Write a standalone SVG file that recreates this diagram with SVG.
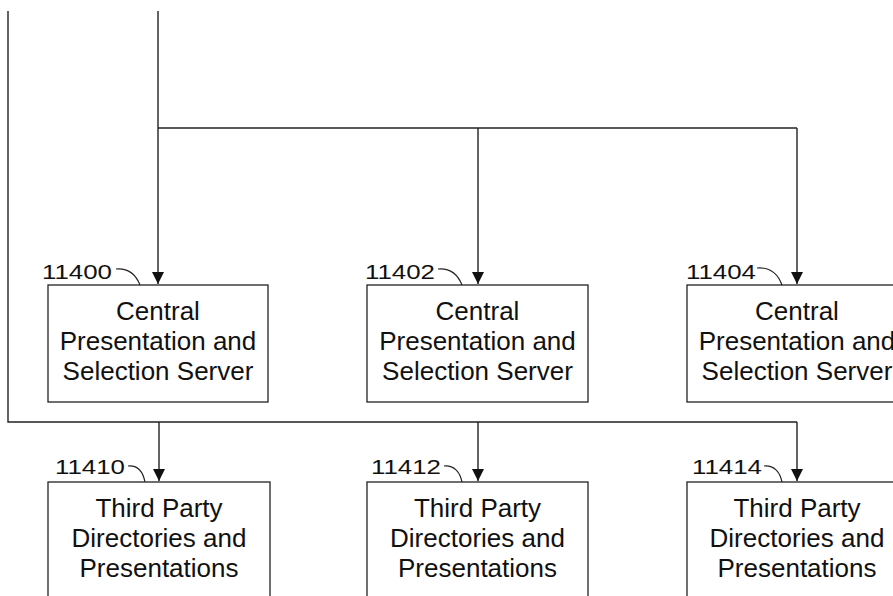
<svg xmlns="http://www.w3.org/2000/svg" width="893" height="596" viewBox="0 0 893 596">
<defs>
<style>
.box{fill:#fff;stroke:#222;stroke-width:1.3}
.ln{fill:none;stroke:#222;stroke-width:1.4}
.ld{fill:none;stroke:#222;stroke-width:1.2}
.t{font-family:"Liberation Sans",Arial,sans-serif;font-size:26px;fill:#111;text-anchor:middle}
.lb{font-family:"Liberation Sans",Arial,sans-serif;font-size:21px;fill:#111}
</style>
<marker id="ah" viewBox="0 0 12 12" refX="12" refY="6" markerWidth="12" markerHeight="12" markerUnits="userSpaceOnUse" orient="auto">
<path d="M0,0 L12,6 L0,12 Z" fill="#111"/>
</marker>
</defs>
<rect width="893" height="596" fill="#fff"/>
<g id="connectors">
<path class="ln" d="M158,11 V284" marker-end="url(#ah)"/>
<path class="ln" d="M158,128 H797"/>
<path class="ln" d="M478,128 V284" marker-end="url(#ah)"/>
<path class="ln" d="M797,128 V284" marker-end="url(#ah)"/>
<path class="ln" d="M8,11 V422 H797"/>
<path class="ln" d="M159,422 V481" marker-end="url(#ah)"/>
<path class="ln" d="M478,422 V481" marker-end="url(#ah)"/>
<path class="ln" d="M797,422 V481" marker-end="url(#ah)"/>
</g>
<g id="n11400">
<rect class="box" x="48" y="285" width="220" height="117"/>
<text class="t" x="158" y="320">Central</text>
<text class="t" x="158" y="350">Presentation and</text>
<text class="t" x="158" y="380">Selection Server</text>
<text class="lb" x="42" y="279" textLength="70" lengthAdjust="spacingAndGlyphs">11400</text>
<path class="ld" d="M116,269 C128,268 136,275 140,285"/>
</g>
<g id="n11402">
<rect class="box" x="367" y="285" width="221" height="117"/>
<text class="t" x="477.5" y="320">Central</text>
<text class="t" x="477.5" y="350">Presentation and</text>
<text class="t" x="477.5" y="380">Selection Server</text>
<text class="lb" x="365" y="279" textLength="70" lengthAdjust="spacingAndGlyphs">11402</text>
<path class="ld" d="M438,269 C450,268 458,275 462,285"/>
</g>
<g id="n11404">
<rect class="box" x="687" y="285" width="220" height="117"/>
<text class="t" x="797" y="320">Central</text>
<text class="t" x="797" y="350">Presentation and</text>
<text class="t" x="797" y="380">Selection Server</text>
<text class="lb" x="686" y="279" textLength="70" lengthAdjust="spacingAndGlyphs">11404</text>
<path class="ld" d="M757,268 C770,267 778,274 782,285"/>
</g>
<g id="n11410">
<rect class="box" x="48" y="482" width="222" height="130"/>
<text class="t" x="159" y="517">Third Party</text>
<text class="t" x="159" y="547">Directories and</text>
<text class="t" x="159" y="577">Presentations</text>
<text class="lb" x="55" y="474" textLength="70" lengthAdjust="spacingAndGlyphs">11410</text>
<path class="ld" d="M128,466 C138,465 143,472 145,482"/>
</g>
<g id="n11412">
<rect class="box" x="367" y="482" width="221" height="130"/>
<text class="t" x="477.5" y="517">Third Party</text>
<text class="t" x="477.5" y="547">Directories and</text>
<text class="t" x="477.5" y="577">Presentations</text>
<text class="lb" x="371" y="474" textLength="70" lengthAdjust="spacingAndGlyphs">11412</text>
<path class="ld" d="M444,466 C454,465 460,472 462,482"/>
</g>
<g id="n11414">
<rect class="box" x="687" y="482" width="220" height="130"/>
<text class="t" x="797" y="517">Third Party</text>
<text class="t" x="797" y="547">Directories and</text>
<text class="t" x="797" y="577">Presentations</text>
<text class="lb" x="692" y="474" textLength="70" lengthAdjust="spacingAndGlyphs">11414</text>
<path class="ld" d="M764,466 C774,465 780,472 782,482"/>
</g>
</svg>
